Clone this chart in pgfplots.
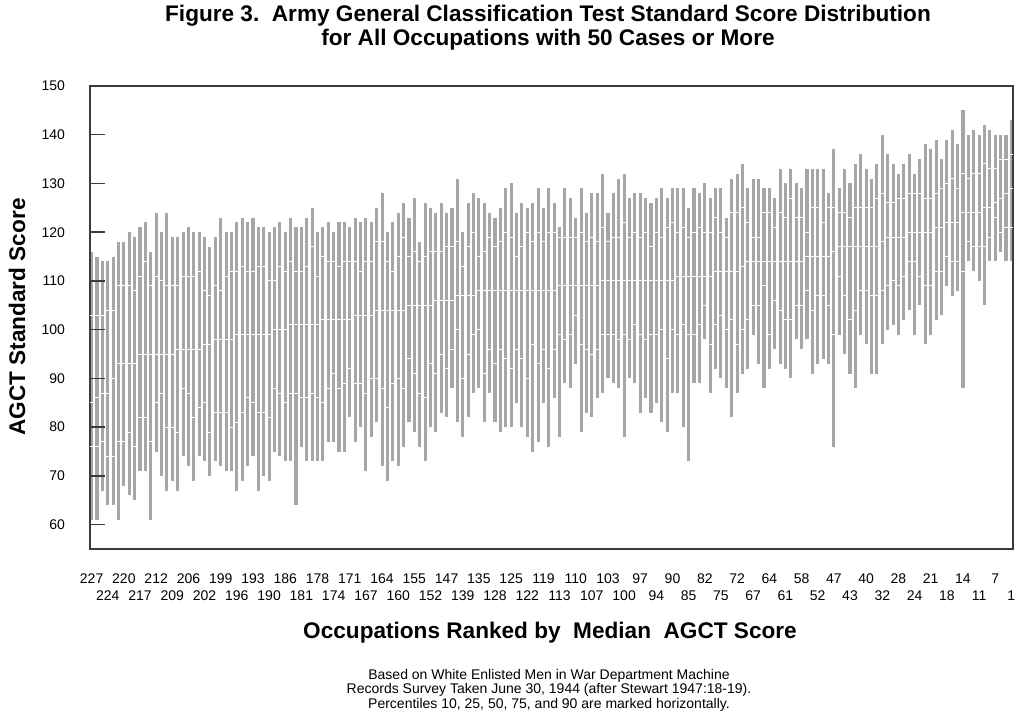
\documentclass[border=0pt]{standalone}
\usepackage{fontspec}
\setmainfont{Liberation Sans}
\usepackage{pgfplots}
\usepackage{pgfplotstable}
\pgfplotsset{compat=1.18}
\definecolor{bargray}{RGB}{166,166,166}
\definecolor{framegray}{RGB}{60,60,60}

\pgfplotstableread{
i p10 p25 p50 p75 p90
1 61 76 85 103 116
2 61 76 86 103 115
3 67 77 87 103 114
4 64 74 87 104 114
5 64 74 90 104 115
6 61 77 93 109 118
7 68 77 93 109 118
8 66 79 93 109 120
9 65 76 93 108 119
10 71 82 95 111 121
11 71 82 95 114 122
12 61 77 95 109 116
13 75 85 95 111 124
14 70 87 95 110 120
15 67 80 95 109 124
16 69 80 95 109 119
17 67 79 96 109 119
18 74 88 96 111 120
19 72 87 96 111 121
20 69 82 96 111 120
21 74 84 96 112 120
22 73 85 97 108 119
23 70 79 97 107 117
24 73 83 98 109 119
25 72 83 98 108 123
26 71 83 98 111 120
27 71 80 98 112 120
28 67 81 99 112 122
29 69 83 99 113 123
30 72 86 99 112 122
31 74 85 99 112 123
32 67 83 99 113 121
33 70 83 99 113 121
34 69 82 99 110 120
35 75 88 100 110 121
36 74 87 100 113 122
37 73 85 100 112 120
38 73 87 101 114 123
39 64 87 101 112 121
40 76 86 101 112 121
41 73 86 101 113 123
42 73 87 101 117 125
43 73 86 101 111 120
44 73 85 102 115 121
45 77 88 102 114 122
46 77 91 102 114 120
47 75 88 102 113 122
48 75 89 102 114 122
49 82 92 102 114 121
50 77 89 103 114 123
51 80 89 103 112 122
52 71 87 103 114 123
53 78 90 103 114 122
54 81 90 104 118 125
55 72 88 104 118 128
56 69 84 104 114 120
57 73 89 104 112 122
58 72 90 104 115 124
59 76 88 104 119 126
60 81 94 105 115 123
61 79 91 105 116 127
62 76 87 105 114 118
63 73 86 105 115 126
64 80 93 105 116 125
65 79 91 106 116 124
66 83 95 106 116 126
67 82 92 106 117 124
68 88 96 106 117 125
69 81 100 107 118 131
70 78 90 107 113 120
71 82 95 107 117 126
72 87 99 107 120 128
73 88 100 108 115 127
74 81 91 108 116 126
75 87 96 108 119 124
76 81 93 108 117 123
77 79 96 108 118 125
78 80 94 108 120 129
79 80 92 108 119 130
80 85 96 108 115 124
81 80 94 108 117 126
82 78 90 108 120 125
83 75 97 108 118 126
84 77 93 108 120 129
85 85 96 108 118 125
86 76 92 108 120 129
87 86 96 108 120 126
88 78 99 109 119 121
89 89 98 109 119 129
90 88 99 109 119 127
91 93 103 109 119 123
92 79 97 109 120 129
93 83 96 109 118 124
94 82 95 109 119 128
95 86 96 109 118 128
96 87 99 110 121 132
97 90 99 110 118 124
98 89 99 110 119 128
99 88 98 110 119 131
100 78 99 110 122 132
101 90 98 110 119 127
102 89 101 110 120 128
103 83 99 110 119 128
104 86 98 110 120 127
105 83 99 110 117 126
106 85 99 110 120 127
107 81 100 110 119 129
108 79 94 110 121 127
109 87 100 110 122 129
110 87 99 111 120 129
111 80 101 111 121 129
112 73 99 111 119 125
113 89 99 111 120 129
114 89 101 111 121 128
115 98 105 111 120 130
116 87 97 111 120 127
117 92 101 112 123 129
118 90 103 112 120 129
119 88 100 112 119 123
120 82 102 112 124 131
121 87 97 112 124 132
122 91 100 113 125 134
123 92 102 114 122 129
124 99 105 114 119 131
125 93 105 114 119 131
126 88 109 114 124 129
127 92 99 114 124 129
128 96 106 114 121 127
129 93 104 114 124 133
130 92 102 114 123 130
131 90 102 114 127 133
132 98 105 114 123 130
133 96 105 114 123 129
134 98 108 115 120 133
135 91 104 115 125 133
136 93 107 115 125 133
137 94 107 115 122 133
138 93 105 115 125 128
139 76 99 116 125 137
140 99 111 117 124 129
141 95 107 117 124 133
142 91 102 117 123 130
143 88 104 117 125 134
144 99 108 117 125 136
145 97 108 117 125 133
146 91 107 117 125 131
147 91 107 117 127 134
148 97 108 118 128 140
149 100 109 119 126 136
150 101 110 119 126 134
151 99 109 119 127 132
152 102 111 119 127 134
153 104 114 120 128 136
154 99 114 120 128 132
155 105 111 120 128 135
156 97 109 120 127 138
157 99 109 120 127 137
158 102 112 121 128 139
159 103 112 121 129 135
160 109 115 122 130 139
161 107 114 122 131 141
162 108 114 122 129 138
163 88 112 124 132 145
164 114 118 124 131 140
165 112 117 124 132 141
166 110 117 124 132 140
167 105 117 125 134 142
168 114 119 125 133 141
169 114 123 126 133 140
170 116 120 127 135 140
171 114 121 128 135 140
172 114 121 129 136 143
}\data

\begin{document}
\begin{tikzpicture}[x=1pt,y=1pt]
\useasboundingbox (0,0) rectangle (512,360.5);
\begin{axis}[
  at={(45pt,86pt)}, anchor=south west,
  scale only axis, width=461.5pt, height=231.5pt,
  xmin=0.7, xmax=172.3, ymin=55, ymax=150,
  axis on top,
  axis line style={framegray, line width=0.7pt},
  /pgf/number format/assume math mode=true,
  ytick={60,70,...,150},
  ytick pos=left, tick align=inside,
  major tick length=7.5pt,
  ytick style={framegray, line width=0.7pt},
  yticklabel style={font=\fontsize{7}{8}\selectfont, xshift=-9pt},
  xtick={1,7,...,169},
  xticklabels={227,220,212,206,199,193,186,178,171,164,155,147,135,125,119,110,103,97,90,82,72,64,58,47,40,28,21,14,7},
  xtick style={draw=none},
  xticklabel style={font=\fontsize{7}{8}\selectfont, anchor=center, yshift=-15pt},
  extra x ticks={4,10,...,172},
  extra x tick labels={224,217,209,202,196,190,181,174,167,160,152,139,128,122,113,107,100,94,85,75,67,61,52,43,32,24,18,11,1},
  extra x tick style={tick style={draw=none}, tick label style={yshift=-8.5pt}},
]
\addplot[draw=none, mark=none, forget plot,
  error bars/.cd, y dir=both, y explicit, error mark=none,
  error bar style={draw=bargray, line width=1.55pt}]
  table[x=i, y=p50, y error plus expr=\thisrow{p90}-\thisrow{p50}, y error minus expr=\thisrow{p50}-\thisrow{p10}] {\data};
\addplot[draw=none, mark=-, mark size=0.9pt, mark options={draw=white, line width=0.5pt}] table[x=i, y=p25] {\data};
\addplot[draw=none, mark=-, mark size=0.9pt, mark options={draw=white, line width=0.5pt}] table[x=i, y=p50] {\data};
\addplot[draw=none, mark=-, mark size=0.9pt, mark options={draw=white, line width=0.5pt}] table[x=i, y=p75] {\data};
\end{axis}
\node[font=\fontsize{11.3}{12}\selectfont\bfseries, align=center] at (274,346.5)
  {Figure 3.\ \ Army General Classification Test Standard Score Distribution\\for All Occupations with 50 Cases or More};
\node[rotate=90, font=\fontsize{11.3}{12}\selectfont\bfseries] at (8.5,202) {AGCT Standard Score};
\node[font=\fontsize{11.3}{12}\selectfont\bfseries] at (275,44) {Occupations Ranked by\ \ Median\ \ AGCT Score};
\node[font=\fontsize{7}{7.25}\selectfont, align=center] at (274.5,15.5)
  {Based on White Enlisted Men in War Department Machine\\Records Survey Taken June 30, 1944 (after Stewart 1947:18-19).\\Percentiles 10, 25, 50, 75, and 90 are marked horizontally.};
\end{tikzpicture}
\end{document}
